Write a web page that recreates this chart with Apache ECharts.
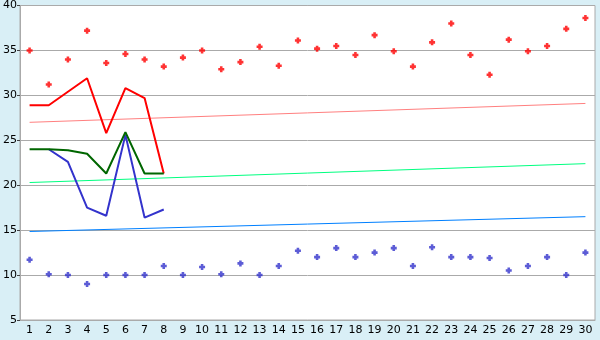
<!DOCTYPE html>
<html><head><meta charset="utf-8">
<script src="https://cdn.jsdelivr.net/npm/echarts@6/dist/echarts.min.js"></script>
<style>html,body{margin:0;padding:0;background:#d9eff6;}#c{width:600px;height:340px;}</style>
</head><body><div id="c"></div>
<script>
const categories = Array.from({length:30},(_,i)=>String(i+1));
const yTicks = [5,10,15,20,25,30,35,40];
const redPoints = [35.0,31.2,34.0,37.2,33.6,34.6,34.0,33.2,34.2,35.0,32.9,33.7,35.4,33.3,36.1,35.2,35.5,34.5,36.7,34.9,33.2,35.9,38.0,34.5,32.3,36.2,34.9,35.5,37.4,38.6];
const bluePoints = [11.7,10.1,10.0,9.0,10.0,10.0,10.0,11.0,10.0,10.9,10.1,11.3,10.0,11.0,12.7,12.0,13.0,12.0,12.5,13.0,11.0,13.1,12.0,12.0,11.9,10.5,11.0,12.0,10.0,12.5];
const redLine = [28.9,28.9,30.4,31.9,25.8,30.8,29.7,21.3];
const greenLine = [24.0,24.0,23.9,23.5,21.3,25.9,21.3,21.3];
const blueLine = [null,24.0,22.6,17.5,16.6,25.6,16.4,17.3];
const redTrend = [['1',27.0],['30',29.1]];
const greenTrend = [['1',20.3],['30',22.4]];
const blueTrend = [['1',14.85],['30',16.5]];

const plus = 'path://M2,0H5V2H7V5H5V7H2V5H0V2H2Z';
const chart = echarts.init(document.getElementById('c'));
const font = {fontFamily:'DejaVu Sans', fontSize:11, color:'#000'};
chart.setOption({
  backgroundColor:'#d9eff6',
  animation:false,
  grid:{left:20,right:5,top:5,bottom:20,show:true,backgroundColor:'#fff',borderColor:'#aaa',borderWidth:1},
  xAxis:{type:'category',data:categories,boundaryGap:true,
    axisLine:{lineStyle:{color:'#aaa'}},
    axisTick:{alignWithLabel:true,length:4,lineStyle:{color:'#444'}},
    axisLabel:Object.assign({margin:5,interval:0},font),
    splitLine:{show:false}},
  yAxis:{type:'value',min:yTicks[0],max:yTicks[yTicks.length-1],interval:5,
    axisLine:{show:true,lineStyle:{color:'#aaa'}},
    axisTick:{show:true,length:3,lineStyle:{color:'#444'}},
    axisLabel:Object.assign({margin:3},font),
    splitLine:{lineStyle:{color:'#aaa',width:1}}},
  series:[
    {type:'line',data:redTrend,symbol:'none',lineStyle:{color:'#ff8080',width:1},z:2},
    {type:'line',data:greenTrend,symbol:'none',lineStyle:{color:'#00ff80',width:1},z:2},
    {type:'line',data:blueTrend,symbol:'none',lineStyle:{color:'#0080ff',width:1},z:2},
    {type:'scatter',data:redPoints,symbol:plus,symbolSize:6,itemStyle:{color:'#ff0000'},z:3},
    {type:'scatter',data:bluePoints,symbol:plus,symbolSize:6,itemStyle:{color:'#3333cc'},z:3},
    {type:'line',data:blueLine,symbol:'none',lineStyle:{color:'#3333cc',width:2},z:4},
    {type:'line',data:greenLine,symbol:'none',lineStyle:{color:'#006600',width:2},z:5},
    {type:'line',data:redLine,symbol:'none',lineStyle:{color:'#ff0000',width:2},z:4}
  ]
});
</script></body></html>
